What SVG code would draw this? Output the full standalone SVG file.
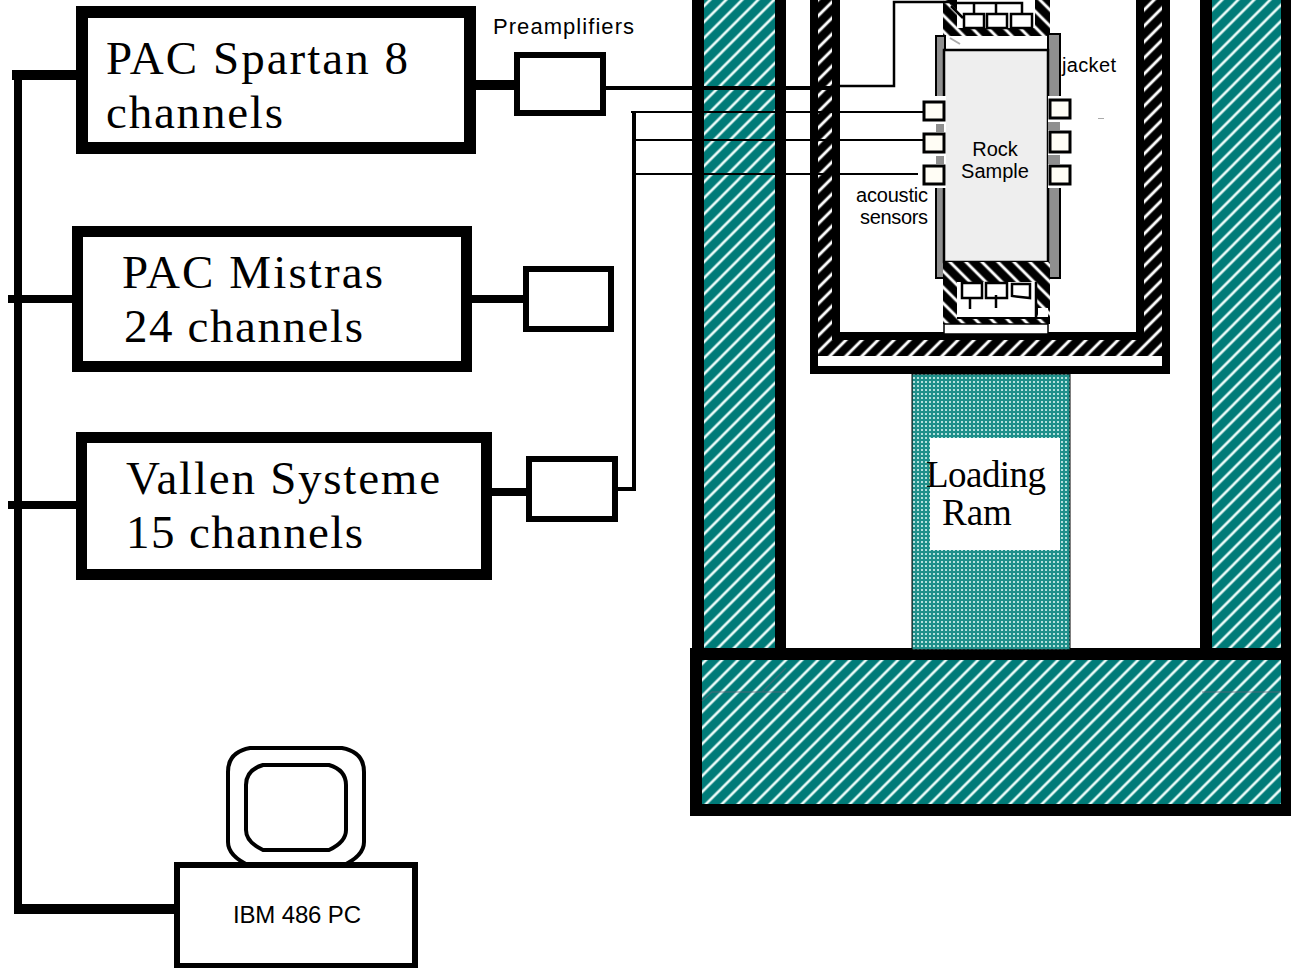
<svg xmlns="http://www.w3.org/2000/svg" width="1291" height="968" viewBox="0 0 1291 968">
<style>
.bx{fill:#fff;stroke:#000}
.k{fill:#000}
.ln{fill:none;stroke:#000}
.big{font-family:"Liberation Serif",serif;font-size:47px;fill:#000}
.mid{font-family:"Liberation Serif",serif;font-size:37px;fill:#000}
.sm{font-family:"Liberation Sans",sans-serif;font-size:20px;fill:#000}
.s{fill:#fffdf5;stroke:#000;stroke-width:3}
</style>
<defs>
<pattern id="teal" width="16" height="16" patternUnits="userSpaceOnUse" patternTransform="translate(2 4)">
<rect width="16" height="16" fill="#007b78"/>
<path d="M-4 4L4 -4M0 16L16 0M12 20L20 12" stroke="#70b8b5" stroke-width="3.6" fill="none"/>
<path d="M-4 4L4 -4M0 16L16 0M12 20L20 12" stroke="#f0fffc" stroke-width="1.6" fill="none"/>
</pattern>
<pattern id="hatchF" width="16" height="16" patternUnits="userSpaceOnUse" patternTransform="translate(2 0)">
<rect width="16" height="16" fill="#000"/>
<path d="M-4 4L4 -4M0 16L16 0M12 20L20 12" stroke="#777" stroke-width="4" fill="none"/>
<path d="M-4 4L4 -4M0 16L16 0M12 20L20 12" stroke="#fff" stroke-width="2" fill="none"/>
</pattern>
<pattern id="hatchB" width="16" height="16" patternUnits="userSpaceOnUse">
<rect width="16" height="16" fill="#000"/>
<path d="M-4 12L4 20M0 0L16 16M12 -4L20 4" stroke="#777" stroke-width="4" fill="none"/>
<path d="M-4 12L4 20M0 0L16 16M12 -4L20 4" stroke="#fff" stroke-width="2" fill="none"/>
</pattern>
<pattern id="dots" width="4" height="4" patternUnits="userSpaceOnUse">
<rect width="4" height="4" fill="#1f8f8a"/>
<rect x="1" y="1" width="2" height="2" fill="#b4e0dc"/>
</pattern>
</defs>

<g id="frame">
<rect class="k" x="692" y="0" width="94" height="660"/>
<rect x="704" y="0" width="71" height="650" fill="url(#teal)"/>
<rect class="k" x="1200" y="0" width="91" height="660"/>
<rect x="1212" y="0" width="69" height="650" fill="url(#teal)"/>
<rect class="k" x="690" y="648" width="601" height="168"/>
<rect x="702" y="660" width="579" height="144" fill="url(#teal)"/>
<path d="M702 701L712 692H786M786 668L762 692M1202 692H1281" stroke="#667" stroke-width="1.5" opacity=".5" fill="none"/>
</g>

<g id="vessel">
<rect class="k" x="810" y="0" width="360" height="374"/>
<rect x="818" y="0" width="344" height="356" fill="url(#hatchF)"/>
<rect x="818" y="356" width="344" height="10" fill="#fff"/>
<rect class="k" x="832" y="0" width="312" height="340"/>
<rect x="840" y="0" width="296" height="332" fill="#fff"/>
</g>

<g id="loading-ram">
<rect x="912" y="374" width="158" height="276" fill="url(#dots)" stroke="#000" stroke-width="1"/>
<rect x="930" y="438" width="130" height="112" fill="#fff"/>
<line x1="912" y1="650" x2="1071" y2="650" stroke="#000" stroke-width="1"/>
<text class="mid" x="926" y="487" textLength="120">Loading</text>
<text class="mid" x="942" y="525">Ram</text>
</g>

<g id="top-platen">
<rect x="943" y="0" width="107" height="36" fill="url(#hatchB)"/>
<rect x="957" y="0" width="78" height="28" fill="#fff"/>
<path class="ln" stroke-width="2.5" d="M950 3H1022V14"/>
<path class="ln" stroke-width="2.5" d="M974 3V14M996 3V14M951 6L963 18"/>
<rect class="bx" stroke-width="2.5" x="964" y="14" width="20" height="14"/>
<rect class="bx" stroke-width="2.5" x="987" y="14" width="20" height="14"/>
<rect class="bx" stroke-width="2.5" x="1011" y="14" width="21" height="14"/>
<rect x="945" y="36" width="103" height="14" fill="#fff"/>
<path d="M950 38L960 44" stroke="#aaa" stroke-width="2"/>
</g>

<g id="jacket">
<rect x="936" y="36" width="9" height="242" fill="#8f8f8f" stroke="#000" stroke-width="2"/>
<rect x="1048" y="34" width="12" height="244" fill="#8f8f8f" stroke="#000" stroke-width="2"/>
</g>

<g id="rock-sample">
<rect x="944" y="50" width="104" height="212" fill="#eee" stroke="#000" stroke-width="2.5"/>
<text class="sm" x="995" y="156" text-anchor="middle">Rock</text>
<text class="sm" x="995" y="178" text-anchor="middle">Sample</text>
</g>

<g id="bottom-platen">
<rect x="943" y="262" width="107" height="62" fill="url(#hatchB)"/>
<rect x="957" y="282" width="79" height="35" fill="#fff"/>
<path d="M1036 282V317" class="ln" stroke-width="2.5"/>
<rect x="1038" y="308" width="10" height="10" fill="#fff"/>
<rect class="k" x="957" y="317" width="91" height="2"/>
<rect class="bx" stroke-width="2.5" x="962" y="283" width="20" height="15"/>
<rect class="bx" stroke-width="2.5" x="986" y="283" width="21" height="15"/>
<path class="bx" stroke-width="2.5" d="M1012 284H1030V298L1012 296Z"/>
<path class="ln" stroke-width="2.5" d="M970 298V309M996 295V308"/>
<rect x="944" y="324" width="104" height="10" fill="#fff" stroke="#000" stroke-width="1.5"/>
</g>

<g id="sensors">
<rect x="933" y="96" width="13" height="92" fill="#fff"/>
<rect x="1048" y="96" width="14" height="92" fill="#fff"/>
<rect x="1048" y="122" width="12" height="8" fill="#8f8f8f"/>
<rect x="936" y="124" width="8" height="8" fill="#8f8f8f"/>
<rect x="936" y="156" width="8" height="8" fill="#8f8f8f"/>
<rect x="1048" y="155" width="12" height="9" fill="#8f8f8f"/>
<rect class="s" x="924" y="102" width="20" height="18"/>
<rect class="s" x="924" y="134" width="20" height="18"/>
<rect class="s" x="924" y="166" width="20" height="18"/>
<rect class="s" x="1050" y="100" width="20" height="18"/>
<rect class="s" x="1050" y="132" width="20" height="20"/>
<rect class="s" x="1050" y="166" width="20" height="18"/>
<rect x="1098" y="118" width="6" height="1" fill="#aaa"/>
</g>

<g id="spartan">
<rect class="bx" stroke-width="12" x="82" y="12" width="388" height="136"/>
<text class="big" x="106" y="74" textLength="302">PAC Spartan 8</text>
<text class="big" x="106" y="128" textLength="177">channels</text>
</g>
<g id="mistras">
<rect class="bx" stroke-width="11" x="77.500" y="231.500" width="389" height="135"/>
<text class="big" x="122" y="288" textLength="261">PAC Mistras</text>
<text class="big" x="124" y="342" textLength="239">24 channels</text>
</g>
<g id="vallen">
<rect class="bx" stroke-width="11" x="81.500" y="437.500" width="405" height="137"/>
<text class="big" x="126" y="494" textLength="314">Vallen Systeme</text>
<text class="big" x="126" y="548" textLength="237">15 channels</text>
</g>
<g id="preamp-1">
<rect class="bx" stroke-width="6" x="517" y="55" width="86" height="58"/>
<text class="sm" x="493" y="34" style="font-size:22px" textLength="141">Preamplifiers</text>
</g>
<g id="preamp-2"><rect class="bx" stroke-width="6" x="526" y="269" width="85" height="60"/></g>
<g id="preamp-3"><rect class="bx" stroke-width="6" x="529" y="459" width="86" height="60"/></g>

<g id="pc">
<path class="bx" stroke-width="4" d="M250 748H342Q364 752 364 772V842Q364 856 342 866H250Q228 856 228 842V772Q228 752 250 748Z"/>
<path class="bx" stroke-width="4" d="M263 765H329Q346 770 346 785V830Q346 842 329 850H263Q246 842 246 830V785Q246 770 263 765Z"/>
<rect class="bx" stroke-width="6" x="177" y="865" width="238" height="101"/>
<text class="sm" x="233" y="923" style="font-size:24px" textLength="128">IBM 486 PC</text>
</g>

<g id="labels">
<text class="sm" x="1062" y="72" textLength="54">jacket</text>
<text class="sm" x="856" y="202" textLength="72">acoustic</text>
<text class="sm" x="860" y="224" textLength="68">sensors</text>
</g>

<g id="connectors">
<path class="ln" stroke-width="8" d="M18 70V914"/>
<path class="ln" stroke-width="10" d="M12 75H78M14 909H176"/>
<path class="ln" stroke-width="8" d="M8 299H72M8 505H78"/>
<path class="ln" stroke-width="10" d="M476 85H515"/>
<path class="ln" stroke-width="8" d="M472 299H523M492 492H526"/>
<path class="ln" stroke-width="4" d="M606 88H840"/>
<path class="ln" stroke-width="2.500" d="M840 86H894V2H950"/>
<path class="ln" stroke-width="4" d="M618 489H634V111"/>
<path class="ln" stroke-width="2" d="M631 112H924M634 140H924M634 174H918"/>
</g>
</svg>
